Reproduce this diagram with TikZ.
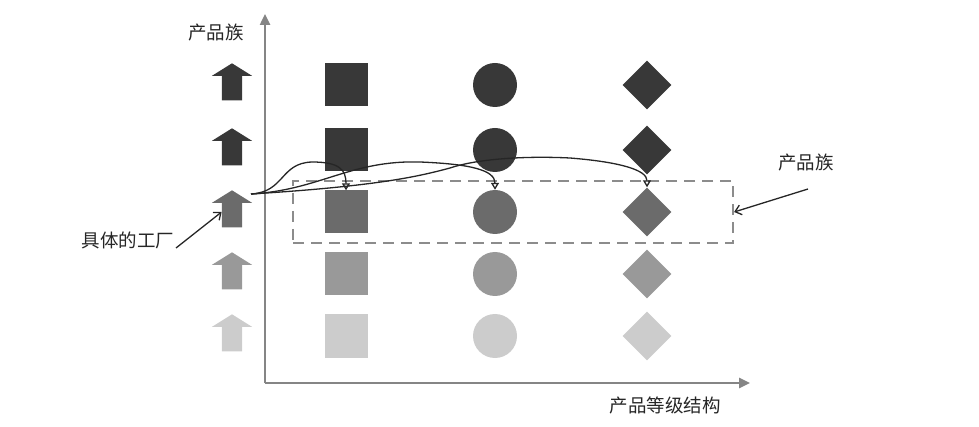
\documentclass[tikz,border=0pt]{standalone}
\usepackage{fontspec}
\setmainfont{Noto Sans CJK SC}
\usetikzlibrary{shapes.geometric,% for the diamonds
                shapes.arrows,% for the block arrows
                arrows.meta}

\begin{document}
\begin{tikzpicture}[
  x=1pt, y=-1pt,
  axis/.style={
    line width=2.4pt, draw=black!48,
    -{Triangle[length=11pt,width=10pt]}
  },
  label/.style={font=\fontsize{18.5}{22}\selectfont, text=black!85, inner sep=0pt},
  factory/.style={
    single arrow, shape border rotate=90, % pointing up
    minimum height=37pt, inner xsep=10pt, inner ysep=0pt,
    single arrow head extend=10pt, single arrow tip angle=116, draw=none
  },
  product/.style={inner sep=0pt, draw=none},
  box/.style={shape=rectangle, minimum size=43pt},
  ball/.style={shape=circle, minimum size=44pt},
  gem/.style={shape=diamond, minimum size=49pt},
  pointer/.style={line width=1.3pt, black!85, -{Straight Barb[length=6pt,width=10pt]}},
  link/.style={line width=1.3pt, black!85, -{Triangle[open,length=7pt,width=8pt]}}
]
\useasboundingbox (0,0) rectangle (979,427);

% axes
\coordinate (origin) at (265,383);
\draw[axis] (origin) -- (265,14);
\draw[axis] (origin) -- (750,383);
\node[label] (famy) at (216,33) {产品族};
\node[label] (grade) at (665,405) {产品等级结构};

% one row per factory, darkest on top
\foreach \row/\y/\shade in {1/85/78, 2/150/78, 3/212/58, 4/274/40, 5/336/20} {
  \node[factory, fill=black!\shade] (f\row) at (232,\y) {};
  \node[product, box, fill=black!\shade] (sq\row) at (346,\y) {};
  \node[product, ball, fill=black!\shade] (ci\row) at (495,\y) {};
  \node[product, gem, fill=black!\shade] (di\row) at (647,\y) {};
}

% the family picked out by one factory
\node[draw=black!45, line width=2.2pt, dash pattern=on 11pt off 7pt,
      minimum width=440pt, minimum height=62pt, inner sep=0pt]
  (family) at (513,212) {};

\node[label] (famlabel) at (806,163) {产品族};
\draw[pointer] (808,189) -- (family.east);

\node[label] (conlabel) at (128,240) {具体的工厂};
\draw[pointer] (176,248) -- (f3.west);

% links from the factory to its products
\coordinate (start) at (251,194);
\draw[link] (start) .. controls (285,192) and (280,163) .. (312,162)
  .. controls (340,162) and (346,170) .. (sq3.north);
\draw[link] (start) .. controls (320,190) and (350,160) .. (420,162)
  .. controls (470,164) and (495,170) .. (ci3.north);
\draw[link] (start) .. controls (380,186) and (420,176) .. (450,168)
  .. controls (480,158) and (530,156) .. (570,158)
  .. controls (620,162) and (647,170) .. (di3.north);
\end{tikzpicture}
\end{document}
